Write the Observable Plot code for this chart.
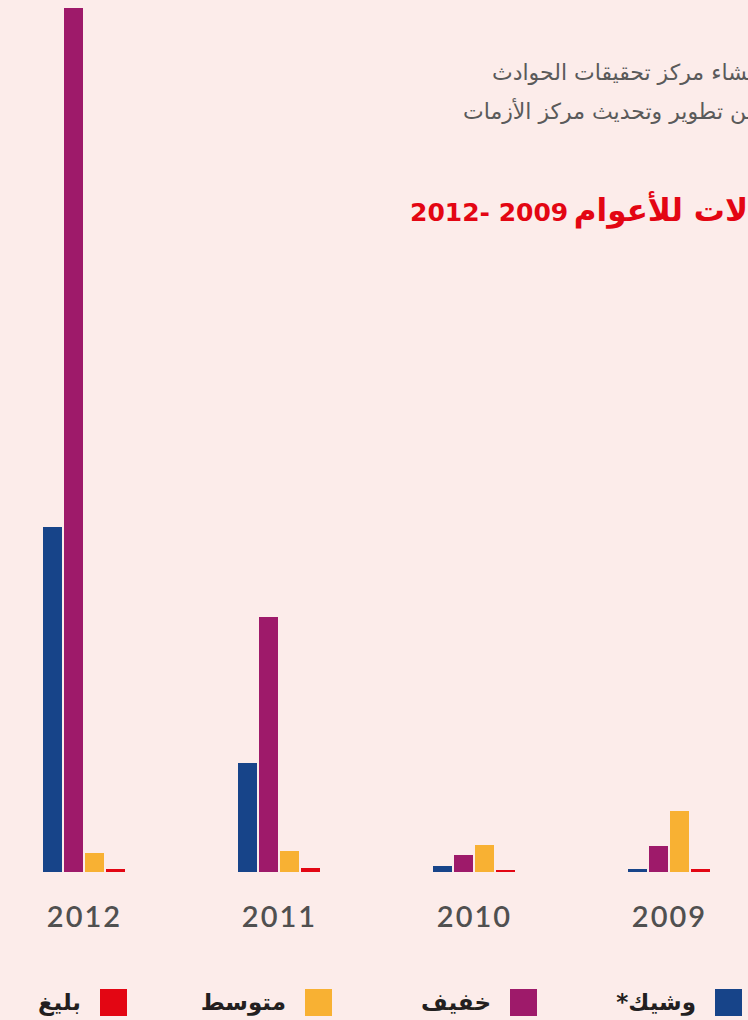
<!DOCTYPE html>
<html lang="ar">
<head>
<meta charset="utf-8">
<script src="https://cdn.jsdelivr.net/npm/d3@7"></script>
<script src="https://cdn.jsdelivr.net/npm/@observablehq/plot@0.6"></script>
<style>
  html, body { margin: 0; padding: 0; }
  body { width: 748px; height: 1020px; overflow: hidden; background: #fcecea; position: relative; font-family: "DejaVu Sans", sans-serif; }
  #chart { position: absolute; left: 0; top: 0; }
  #chart svg text { letter-spacing: 2px; }
  .hdr { position: absolute; white-space: nowrap; width: max-content; direction: rtl; }
  .sub { color: #5a5a5a; font-size: 22px; line-height: 26px; }
  .ttl { color: #e30613; line-height: 32px; font-weight: bold; font-family: "DejaVu Sans", sans-serif; }
  .ttl .ar { font-size: 31px; }
  .ttl .num { font-size: 25px; letter-spacing: 1.5px; }
  #legend { position: absolute; right: 6px; top: 989px; display: flex; direction: rtl; width: max-content; }
  .item { flex: none; width: 205px; display: flex; align-items: center; height: 27px; }
  .item:last-child { width: auto; }
  .sw { width: 27px; height: 27px; margin-left: 19px; flex: none; }
  .lbl { font-size: 23px; color: #231f20; font-weight: bold; line-height: 27px; }
</style>
</head>
<body>
<div id="chart"></div>
<div class="hdr sub" id="h1" style="left:492px; top:60px;"></div>
<div class="hdr sub" id="h2" style="left:463px; top:99px;"></div>
<div class="hdr ttl" id="h3" style="left:410px; top:194px;"><span class="ar" id="h3a"></span> <span class="num" id="h3b"></span></div>
<div id="legend"></div>
<script>
// ---- data ----
const years = [2012, 2011, 2010, 2009];
const severities = ["وشيك", "خفيف", "متوسط", "بليغ"];
const legendLabels = ["وشيك*", "خفيف", "متوسط", "بليغ"];
const colors = ["#174489", "#9e1a6a", "#f8b133", "#e30613"];
const imminent = [345, 109, 6, 3];
const minor = [864, 255, 17, 26];
const moderate = [19, 21, 27, 61];
const severe = [3, 4, 2, 3];
const headerLines = ["إنشاء مركز تحقيقات الحوادث", "الانتهاء من تطوير وتحديث مركز الأزمات"];
const titleWords = "عدد الحالات للأعوام";
const titleYears = "2009 -2012";

const seriesValues = [imminent, minor, moderate, severe];
const table = [];
years.forEach((yr, i) => {
  severities.forEach((s, j) => {
    table.push({year: yr, severity: s, value: seriesValues[j][i]});
  });
});

const plot = Plot.plot({
  width: 748,
  height: 960,
  marginTop: 8,
  marginBottom: 88,
  marginLeft: 40,
  marginRight: 36,
  style: {background: "transparent", overflow: "visible"},
  fx: {domain: years, paddingInner: 0.56, paddingOuter: 0, axis: null},
  x: {domain: severities, paddingInner: 0.09, paddingOuter: 0, axis: null},
  y: {domain: [0, d3.max(table, d => d.value)], axis: null},
  color: {domain: severities, range: colors},
  marks: [
    Plot.barY(table, {fx: "year", x: "severity", y: "value", fill: "severity"}),
    Plot.text(years, {fx: d => d, text: d => String(d), frameAnchor: "bottom", dy: 45,
      fontSize: 29, fill: "#505050", fontFamily: "Lato, sans-serif", fontWeight: 600, lineAnchor: "middle"})
  ]
});
document.getElementById("chart").appendChild(plot);

document.getElementById("h1").textContent = headerLines[0];
document.getElementById("h2").textContent = headerLines[1];
document.getElementById("h3a").textContent = titleWords;
document.getElementById("h3b").textContent = titleYears;

const legend = document.getElementById("legend");
legendLabels.forEach((lab, i) => {
  const it = document.createElement("div");
  it.className = "item";
  const sw = document.createElement("div");
  sw.className = "sw";
  sw.style.background = colors[i];
  const t = document.createElement("span");
  t.className = "lbl";
  t.textContent = lab;
  it.appendChild(sw);
  it.appendChild(t);
  legend.appendChild(it);
});
</script>
</body>
</html>
